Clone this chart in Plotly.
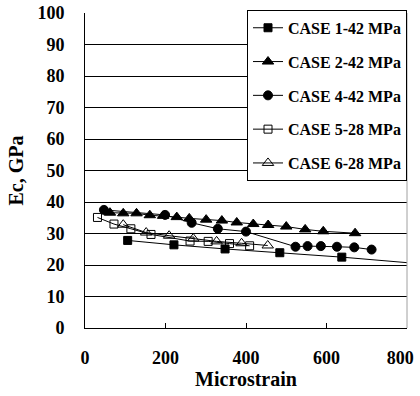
import plotly.graph_objects as go

# ---- data ----
case1_x = [106, 221, 348, 484, 638, 850]
case1_y = [27.8, 26.4, 25.1, 23.9, 22.5, 20.2]

case2_x = [62, 95, 128, 161, 194, 228, 259, 301, 340, 377, 418, 455, 500, 547, 592, 671]
case2_y = [36.6, 36.4, 36.4, 35.8, 35.6, 35.2, 34.8, 34.4, 34.1, 33.5, 33.0, 32.7, 32.2, 31.3, 30.7, 30.1]

case4_x = [47, 199, 265, 330, 400, 523, 553, 586, 626, 669, 712]
case4_y = [37.5, 35.9, 33.4, 31.5, 30.6, 25.8, 26.0, 26.0, 25.8, 25.6, 24.9]

case5_x = [31, 72, 114, 164, 261, 306, 359, 409]
case5_y = [35.1, 33.0, 31.5, 29.7, 27.6, 27.5, 26.8, 26.1]

case6_x = [95, 152, 209, 269, 327, 389, 454]
case6_y = [32.8, 30.3, 29.3, 28.4, 27.5, 26.9, 26.2]

names = ["CASE 1-42 MPa", "CASE 2-42 MPa", "CASE 4-42 MPa", "CASE 5-28 MPa", "CASE 6-28 MPa"]
x_ticks = [0, 200, 400, 600, 800]
y_ticks = [0, 10, 20, 30, 40, 50, 60, 70, 80, 90, 100]

FONT = "Liberation Serif"

series = [
    (case1_x, case1_y, "square", 8),
    (case2_x, case2_y, "triangle-up", 10),
    (case4_x, case4_y, "circle", 9),
    (case5_x, case5_y, "square-open", 8),
    (case6_x, case6_y, "triangle-up-open", 10),
]

fig = go.Figure()
for i, (xs, ys, sym, sz) in enumerate(series):
    fig.add_trace(go.Scatter(
        x=xs, y=ys, name=f"<b>{names[i]}</b>", mode="lines+markers",
        legendgroup=f"g{i}",
        line=dict(color="black", width=1),
        marker=dict(symbol=sym, size=sz, color="black",
                    line=dict(color="black", width=1)),
        cliponaxis=True,
    ))

x_ticktext = [f"<b>{v}</b>" for v in x_ticks]
x_ticktext[-1] = x_ticktext[-1] + "&nbsp;&nbsp;&nbsp;"

fig.update_layout(
    width=420, height=396,
    margin=dict(l=85, r=13, t=13, b=68, autoexpand=False),
    paper_bgcolor="white", plot_bgcolor="white",
    font=dict(family=FONT, size=18, color="black"),
    showlegend=True,
    legend=dict(
        x=1.0, y=1.01, xanchor="right", yanchor="top",
        bgcolor="white", bordercolor="black", borderwidth=1,
        font=dict(family=FONT, size=16, color="black"),
        tracegroupgap=10, itemwidth=30,
    ),
    xaxis=dict(
        range=[0, 800], tickvals=x_ticks, ticktext=x_ticktext,
        ticks="inside", ticklen=5, ticklabeloverflow="allow",
        tickcolor="black", showline=True, linecolor="black", linewidth=1,
        showgrid=False, zeroline=False,
        tickfont=dict(family=FONT, size=18, color="black"),
        title=dict(text="<b>Microstrain</b>", font=dict(family=FONT, size=20, color="black"), standoff=0),
        ticklabelstandoff=13,
    ),
    yaxis=dict(
        range=[0, 100], tickvals=y_ticks, ticktext=[f"<b>{v}</b>" for v in y_ticks],
        ticks="inside", ticklen=5,
        tickcolor="black", showline=True, linecolor="black", linewidth=1,
        showgrid=True, gridcolor="black", gridwidth=1, zeroline=False,
        tickfont=dict(family=FONT, size=18, color="black"),
        title=dict(text="<b>Ec, GPa</b>", font=dict(family=FONT, size=20, color="black"), standoff=8),
        ticklabelstandoff=16,
    ),
    shapes=[dict(type="line", xref="paper", yref="paper", x0=1, x1=1, y0=0, y1=1,
                 line=dict(color="#a0a0a0", width=1))],
)

fig.write_html("out.html")
